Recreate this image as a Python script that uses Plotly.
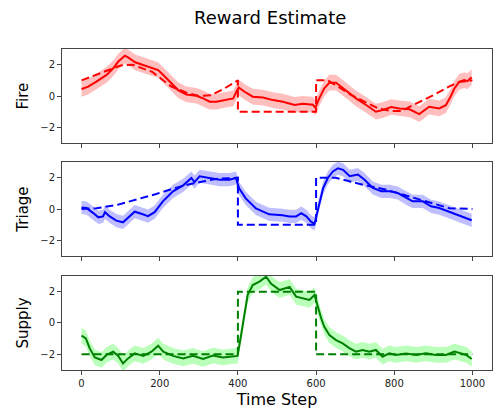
import numpy as np
import plotly.graph_objects as go
from plotly.subplots import make_subplots

# ---------------- data ----------------
fire_true_t = [0, 50, 100, 130, 180, 230, 270, 300, 330, 360, 400, 400, 600, 600, 630, 690, 760, 790, 820, 850, 900, 940, 966, 1000]
fire_true_v = [1.0, 1.5, 1.95, 2.0, 1.55, 0.6, 0.2, 0.0, 0.05, 0.4, 1.0, -1.0, -1.0, 1.0, 1.0, 0.06, -0.8, -0.95, -0.95, -0.55, 0.05, 0.6, 0.9, 1.0]

fire_est_t = [0, 17, 38, 64, 81, 94, 111, 120, 137, 158, 179, 196, 209, 226, 247, 268, 294, 311, 328, 345, 362, 388, 396, 402, 417, 438, 464, 490, 515, 545, 566, 592, 598, 608, 621, 634, 651, 664, 681, 702, 728, 753, 770, 792, 813, 839, 864, 889, 915, 932, 945, 953, 966, 979, 987, 998]
fire_est_v = [0.45, 0.6, 0.92, 1.35, 1.77, 2.2, 2.57, 2.45, 2.15, 1.98, 1.8, 1.66, 1.34, 0.91, 0.38, 0.1, 0.02, -0.15, -0.36, -0.36, -0.26, -0.15, 0.27, 0.55, 0.27, -0.04, -0.1, -0.26, -0.36, -0.57, -0.5, -0.55, -0.75, -0.15, 0.49, 0.85, 0.85, 0.6, 0.28, -0.15, -0.57, -1.0, -0.9, -0.7, -0.79, -0.85, -1.15, -0.68, -0.79, -0.58, 0.0, 0.45, 0.9, 1.02, 0.95, 1.2]
fire_std = 0.5

triage_true_t = [0, 38, 89, 140, 191, 234, 276, 310, 344, 400, 400, 600, 600, 650, 720, 780, 839, 907, 941, 1000]
triage_true_v = [0.0, 0.05, 0.25, 0.58, 0.96, 1.3, 1.58, 1.75, 1.92, 2.0, -1.0, -1.0, 2.0, 2.0, 1.55, 1.23, 0.81, 0.28, 0.05, 0.0]

triage_est_t = [0, 13, 30, 43, 55, 60, 72, 89, 106, 123, 136, 153, 170, 187, 208, 234, 260, 281, 289, 302, 327, 353, 378, 395, 403, 420, 446, 480, 514, 532, 549, 562, 575, 587, 596, 609, 618, 630, 643, 656, 669, 686, 707, 724, 745, 767, 788, 809, 830, 847, 873, 894, 915, 937, 958, 979, 998]
triage_est_v = [0.1, 0.06, -0.26, -0.53, -0.47, -0.2, -0.47, -0.74, -0.85, -0.47, -0.17, -0.3, -0.45, -0.2, 0.49, 1.13, 1.51, 1.98, 1.72, 2.09, 2.0, 1.87, 1.87, 1.98, 1.32, 0.68, 0.04, -0.34, -0.4, -0.47, -0.47, -0.26, -0.47, -0.81, -0.95, 0.49, 1.34, 1.98, 2.4, 2.6, 2.5, 2.09, 2.2, 1.87, 1.34, 1.13, 1.13, 1.02, 0.7, 0.49, 0.49, 0.17, 0.06, -0.15, -0.36, -0.53, -0.72]
triage_std = 0.42

supply_true_t = [0, 400, 400, 600, 600, 1000]
supply_true_v = [-2.0, -2.0, 2.0, 2.0, -2.0, -2.0]

supply_est_t = [0, 11, 21, 34, 51, 64, 81, 94, 106, 119, 136, 158, 179, 196, 209, 234, 260, 285, 311, 336, 362, 387, 399, 408, 417, 425, 438, 455, 472, 485, 507, 532, 549, 566, 583, 596, 605, 613, 621, 634, 651, 668, 685, 702, 719, 736, 753, 770, 787, 804, 830, 856, 881, 907, 932, 954, 971, 984, 998]
supply_est_v = [-0.81, -0.98, -1.62, -2.2, -2.36, -2.04, -1.83, -2.1, -2.58, -2.26, -1.94, -2.1, -1.83, -1.45, -1.83, -2.1, -2.26, -2.1, -2.3, -2.08, -2.2, -2.1, -2.1, -0.8, 0.72, 1.79, 2.42, 2.64, 2.95, 2.5, 2.1, 2.3, 1.68, 1.57, 1.47, 1.79, 0.93, 0.3, -0.24, -0.77, -1.09, -1.3, -1.6, -1.83, -1.72, -1.83, -1.72, -2.15, -1.94, -2.04, -1.94, -2.04, -1.94, -2.04, -2.04, -1.83, -1.94, -2.04, -2.3]
supply_std = 0.5

series = [
    ("Fire", fire_true_t, fire_true_v, fire_est_t, fire_est_v, fire_std, "#ff0000", "rgba(255,0,0,0.25)"),
    ("Triage", triage_true_t, triage_true_v, triage_est_t, triage_est_v, triage_std, "#0000ff", "rgba(0,0,255,0.25)"),
    ("Supply", supply_true_t, supply_true_v, supply_est_t, supply_est_v, supply_std, "#008000", "rgba(0,255,0,0.27)"),
]

x_ticks = [0, 200, 400, 600, 800, 1000]
y_ticks = [-2, 0, 2]

# ---------------- figure ----------------
fig = make_subplots(rows=3, cols=1, shared_xaxes=True, vertical_spacing=0.0)
domains = [[0.707, 1.0], [0.355, 0.648], [0.0, 0.293]]

for i, (name, tt, tv, et, ev, sd, col, fill) in enumerate(series, start=1):
    et_a = np.array(et, dtype=float)
    ev_a = np.array(ev, dtype=float)
    upper = ev_a + sd
    lower = ev_a - sd
    fig.add_trace(go.Scatter(x=np.concatenate([et_a, et_a[::-1]]),
                             y=np.concatenate([upper, lower[::-1]]),
                             fill="toself", fillcolor=fill, line=dict(width=0),
                             mode="lines", hoverinfo="skip", showlegend=False), row=i, col=1)
    fig.add_trace(go.Scatter(x=tt, y=tv, mode="lines",
                             line=dict(color=col, width=2, dash="8px,4px"),
                             showlegend=False), row=i, col=1)
    fig.add_trace(go.Scatter(x=et, y=ev, mode="lines",
                             line=dict(color=col, width=2),
                             showlegend=False), row=i, col=1)

axis_common = dict(showline=True, linecolor="#444", linewidth=1, mirror=True,
                   ticks="outside", ticklen=4, tickcolor="#444", showgrid=False,
                   zeroline=False, automargin=False,
                   tickfont=dict(family="DejaVu Sans", size=10, color="#222"))

for i, (name, *_rest) in enumerate(series, start=1):
    yname = "yaxis" if i == 1 else f"yaxis{i}"
    xname = "xaxis" if i == 1 else f"xaxis{i}"
    fig.layout[yname].update(range=[-3, 3], tickvals=y_ticks, domain=domains[i - 1],
                             title=dict(text=name, font=dict(family="DejaVu Sans", size=15, color="#000"), standoff=7),
                             **axis_common)
    fig.layout[xname].update(range=[-50, 1050], tickvals=x_ticks,
                             showticklabels=(i == 3), **axis_common)

fig.layout["xaxis3"].update(title=dict(text="Time Step", font=dict(family="DejaVu Sans", size=16, color="#000"), standoff=5))

fig.update_layout(
    width=493, height=416,
    margin=dict(l=62, r=1, t=49, b=46, autoexpand=False),
    paper_bgcolor="white", plot_bgcolor="white",
    title=dict(text="Reward Estimate", x=0.548, xanchor="center", y=0.958, yanchor="middle",
               font=dict(family="DejaVu Sans", size=18, color="#000")),
    showlegend=False,
)

fig.write_html("out.html", config={"displayModeBar": False},
               post_script="document.body.style.margin='0';document.body.style.overflow='hidden';")
